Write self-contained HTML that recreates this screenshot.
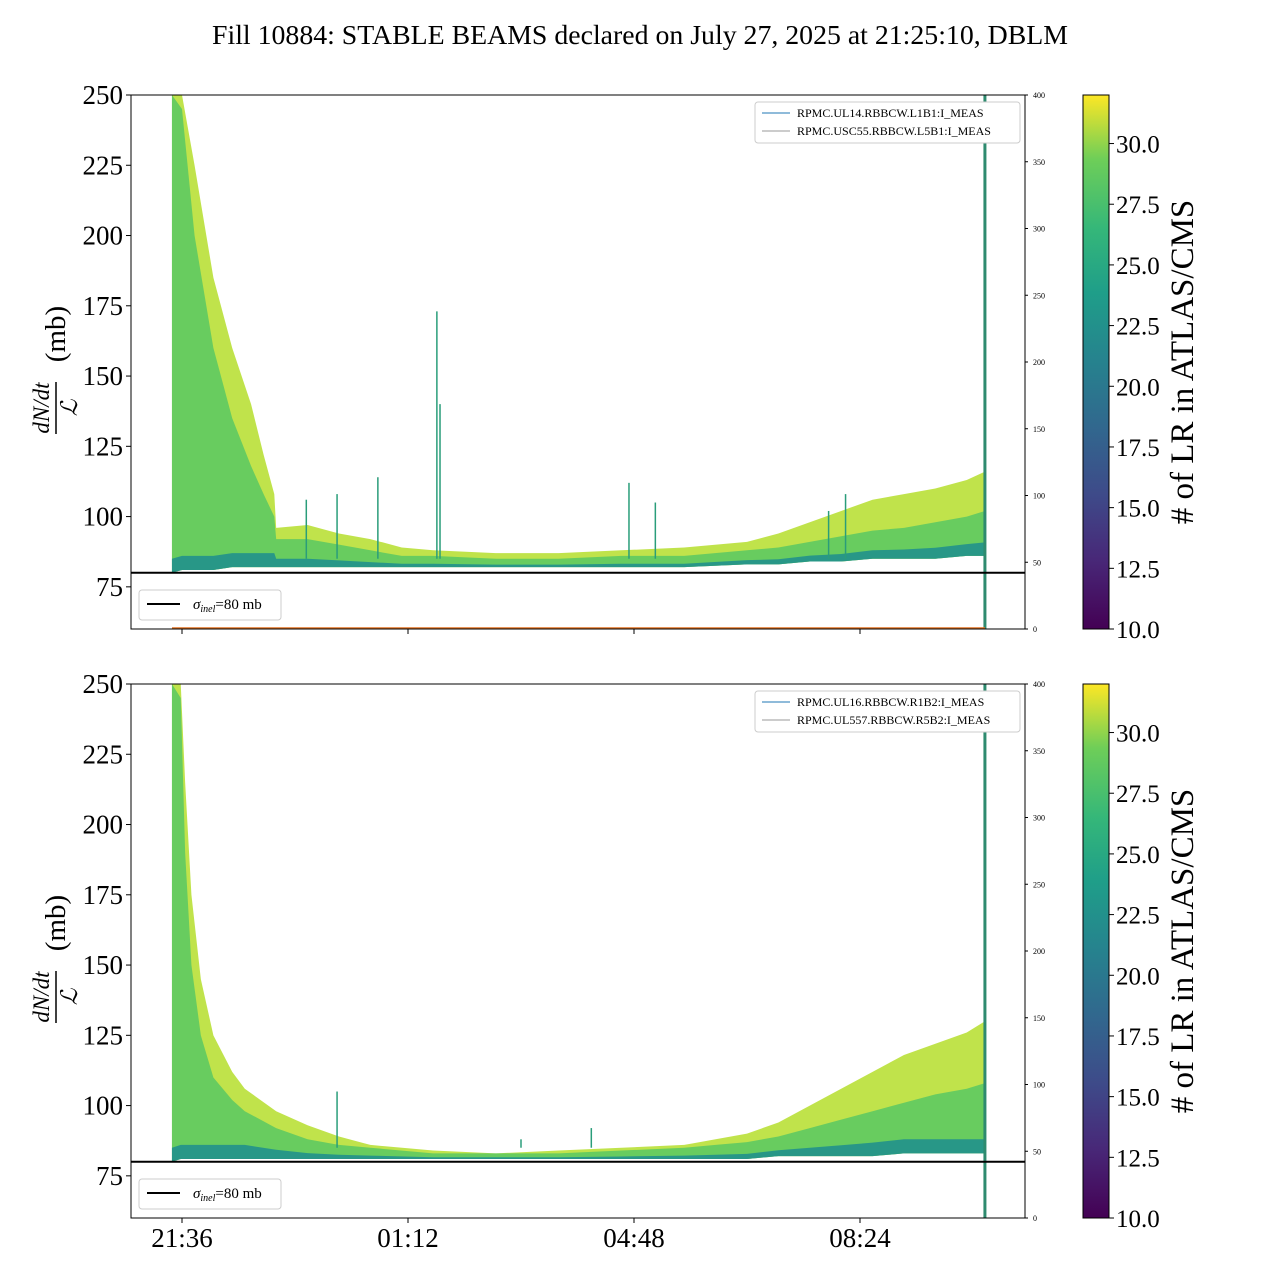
<!DOCTYPE html>
<html><head><meta charset="utf-8"><style>
body{margin:0;background:#fff}
svg{display:block;font-family:"Liberation Serif","DejaVu Serif",serif}
</style></head><body>
<svg id="c" width="1280" height="1280" viewBox="0 0 1280 1280">
<defs>
<linearGradient id="vir" x1="0" y1="1" x2="0" y2="0">
<stop offset="0" stop-color="#440154"/><stop offset="0.13" stop-color="#482878"/><stop offset="0.25" stop-color="#3e4a89"/><stop offset="0.38" stop-color="#31688e"/><stop offset="0.5" stop-color="#26828e"/><stop offset="0.63" stop-color="#1f9e89"/><stop offset="0.75" stop-color="#35b779"/><stop offset="0.88" stop-color="#6ece58"/><stop offset="1" stop-color="#fde725"/>
</linearGradient>
</defs>
<text x="640" y="44" font-size="27.5" text-anchor="middle" textLength="856" lengthAdjust="spacingAndGlyphs">Fill 10884: STABLE BEAMS declared on July 27, 2025 at 21:25:10, DBLM</text>
</svg>
<script>
// data (t = hours since 21:36)
const xTickLabels=["21:36","01:12","04:48","08:24"];
const xTickHours=[0,3.6,7.2,10.8];
const yTicks=[75,100,125,150,175,200,225,250];
const rTicks=[0,50,100,150,200,250,300,350,400];
const cbTicks=[10,12.5,15,17.5,20,22.5,25,27.5,30];
const topTimes=[-0.16,0,0.2,0.5,0.8,1.1,1.3,1.47,1.5,2,2.5,3,3.5,4,5,6,7,8,9,9.5,10,10.5,11,11.5,12,12.5,12.79];
const topUpper=[250,250,225,185,160,140,122,108,96,97,94,92,89,88,87,87,88,89,91,94,98,102,106,108,110,113,116];
const topMid=[250,245,200,160,135,118,108,100,92,92,90,88,86,86,85,85,86,86,88,89,91,93,95,96,98,100,102];
const topLower=[80,81,81,81,82,82,82,82,82,82,82,82,82,82,82,82,82,82,83,83,84,84,85,85,85,86,86];
const topSpikeT=[1.98,2.47,3.12,4.06,4.11,7.12,7.54,10.3,10.57];
const topSpikeV=[106,108,114,173,140,112,105,102,108];
const botTimes=[-0.16,-0.02,0.05,0.15,0.3,0.5,0.8,1,1.5,2,2.5,3,4,5,6,7,8,8.5,9,9.5,10,10.5,11,11.5,12,12.5,12.79];
const botUpper=[250,250,215,175,145,125,112,106,98,93,89,86,84,83,84,85,86,88,90,94,100,106,112,118,122,126,130];
const botMid=[250,245,190,150,125,110,102,98,92,88,86,85,83,83,83,84,85,86,87,89,92,95,98,101,104,106,108];
const botLower=[80,81,81,81,81,81,81,81,81,81,81,81,81,81,81,81,81,81,81,82,82,82,82,83,83,83,83];
const botSpikeT=[2.47,5.4,6.52];
const botSpikeV=[105,88,92];
const sigma=80;

const NS="http://www.w3.org/2000/svg";
const svg=document.getElementById('c');
function mk(tag,attrs,parent){const e=document.createElementNS(NS,tag);for(const k in attrs)e.setAttribute(k,attrs[k]);(parent||svg).appendChild(e);return e;}
const X0=131,X1=1025;
function xs(t){return 182+t*226/3.6;}
function ysF(top){return v=>top+(250-v)/190*534;}

function panel(top,times,up,mid,lo,spT,spV,leg1,leg2,showX,idx){
  const ys=ysF(top);
  const g=mk('g',{});
  
  
  const clip=mk('clipPath',{id:'cl'+idx},g);mk('rect',{x:X0,y:top,width:X1-X0,height:534},clip);
  const d=mk('g',{'clip-path':'url(#cl'+idx+')'},g);
  function band(a,b,fill,name,op){
    let p=times.map((t,i)=>xs(t)+','+ys(a[i])).join(' ')+' '+times.map((t,i)=>xs(t)+','+ys(b[i])).reverse().join(' ');
    const e=mk('polygon',{points:p,fill:fill,opacity:op},d);
    
    
  }
  band(up,lo,'#b5de2b','band-upper',0.85);
  band(mid,lo,'#5ec962','band-mid',0.9);
  const low2=lo.map((v,i)=>v+Math.min((mid[i]-v)*0.3,5));
  band(low2,lo,'#21918c','band-lower',0.9);
  spT.forEach((t,i)=>{
    const e=mk('line',{x1:xs(t),x2:xs(t),y1:ys(spV[i]),y2:ys(85),stroke:'#2a9d7a','stroke-width':1.5},d);
    
    
  });
  const last=times[times.length-1];
  const vl=mk('line',{x1:xs(last),x2:xs(last),y1:top,y2:top+534,stroke:'#2e8b6f','stroke-width':3},d);
  
  
  if(idx===0){mk('line',{x1:172,x2:985,y1:top+533,y2:top+533,stroke:'#e07020','stroke-width':1.5},d);}
  const sl=mk('line',{x1:X0,x2:X1,y1:ys(sigma),y2:ys(sigma),stroke:'#000','stroke-width':2},g);
  
  
  mk('rect',{x:X0,y:top,width:X1-X0,height:534,fill:'none',stroke:'#000','stroke-width':1},g);
  yTicks.forEach(v=>{
    mk('line',{x1:X0-5,x2:X0,y1:ys(v),y2:ys(v),stroke:'#000'},g);
    const t=mk('text',{x:X0-8,y:ys(v)+9,'font-size':27,'text-anchor':'end'},g);t.textContent=v;
    
    
  });
  rTicks.forEach(v=>{
    const y=top+534-v/400*534;
    mk('line',{x1:X1,x2:X1+3,y1:y,y2:y,stroke:'#000'},g);
    const t=mk('text',{x:X1+8,y:y+3,'font-size':8},g);t.textContent=v;
    
    
  });
  xTickHours.forEach((h,i)=>{
    mk('line',{x1:xs(h),x2:xs(h),y1:top+534,y2:top+539,stroke:'#000'},g);
    if(showX){const t=mk('text',{x:xs(h),y:top+534+29,'font-size':27,'text-anchor':'middle'},g);t.textContent=xTickLabels[i];
      
      }
  });
  const yl=mk('g',{transform:'translate(56,'+(top+267)+') rotate(-90)'},g);
  
  
  let t1=mk('text',{x:-46,y:-7,'font-size':23,'font-style':'italic','text-anchor':'middle'},yl);t1.textContent='dN/dt';
  mk('line',{x1:-72,x2:-20,y1:0,y2:0,stroke:'#000','stroke-width':1.5},yl);
  let t2=mk('text',{x:-46,y:21,'font-size':23,'font-style':'italic','text-anchor':'middle'},yl);t2.textContent='ℒ';
  let t3=mk('text',{x:28,y:9,'font-size':29,'text-anchor':'middle'},yl);t3.textContent='(mb)';
  const lg=mk('g',{},g);
  
  
  mk('rect',{x:755,y:top+7,width:265,height:41,rx:3,fill:'#fff',stroke:'#ccc'},lg);
  mk('line',{x1:762,x2:790,y1:top+18,y2:top+18,stroke:'#1f77b4'},lg);
  mk('line',{x1:762,x2:790,y1:top+36,y2:top+36,stroke:'#999'},lg);
  let a=mk('text',{x:797,y:top+22,'font-size':12},lg);a.textContent=leg1;
  let b=mk('text',{x:797,y:top+40,'font-size':12},lg);b.textContent=leg2;
  const sg=mk('g',{},g);
  
  
  mk('rect',{x:139,y:top+495,width:142,height:30,rx:3,fill:'#fff',stroke:'#ccc'},sg);
  mk('line',{x1:147,x2:180,y1:top+509,y2:top+509,stroke:'#000','stroke-width':2},sg);
  const st=mk('text',{x:193,y:top+514,'font-size':15},sg);
  st.innerHTML='<tspan font-style="italic">σ</tspan><tspan font-style="italic" font-size="10" dy="3">inel</tspan><tspan dy="-3">=80 mb</tspan>';
  const cb=mk('g',{},g);
  
  
  mk('rect',{x:1083,y:top,width:26,height:534,fill:'url(#vir)',stroke:'#000'},cb);
  cbTicks.forEach(v=>{
    const y=top+534-(v-10)/22*534;
    mk('line',{x1:1109,x2:1114,y1:y,y2:y,stroke:'#000'},cb);
    const t=mk('text',{x:1116,y:y+9,'font-size':25},cb);t.textContent=v.toFixed(1);
    
    
  });
  const cl=mk('text',{x:0,y:0,'font-size':33,'text-anchor':'middle',transform:'translate(1193,'+(top+267)+') rotate(-90)'},cb);
  cl.textContent='# of LR in ATLAS/CMS';
  
  
}
panel(95,topTimes,topUpper,topMid,topLower,topSpikeT,topSpikeV,'RPMC.UL14.RBBCW.L1B1:I_MEAS','RPMC.USC55.RBBCW.L5B1:I_MEAS',false,0);
panel(684,botTimes,botUpper,botMid,botLower,botSpikeT,botSpikeV,'RPMC.UL16.RBBCW.R1B2:I_MEAS','RPMC.UL557.RBBCW.R5B2:I_MEAS',true,1);
</script>
</body></html>
